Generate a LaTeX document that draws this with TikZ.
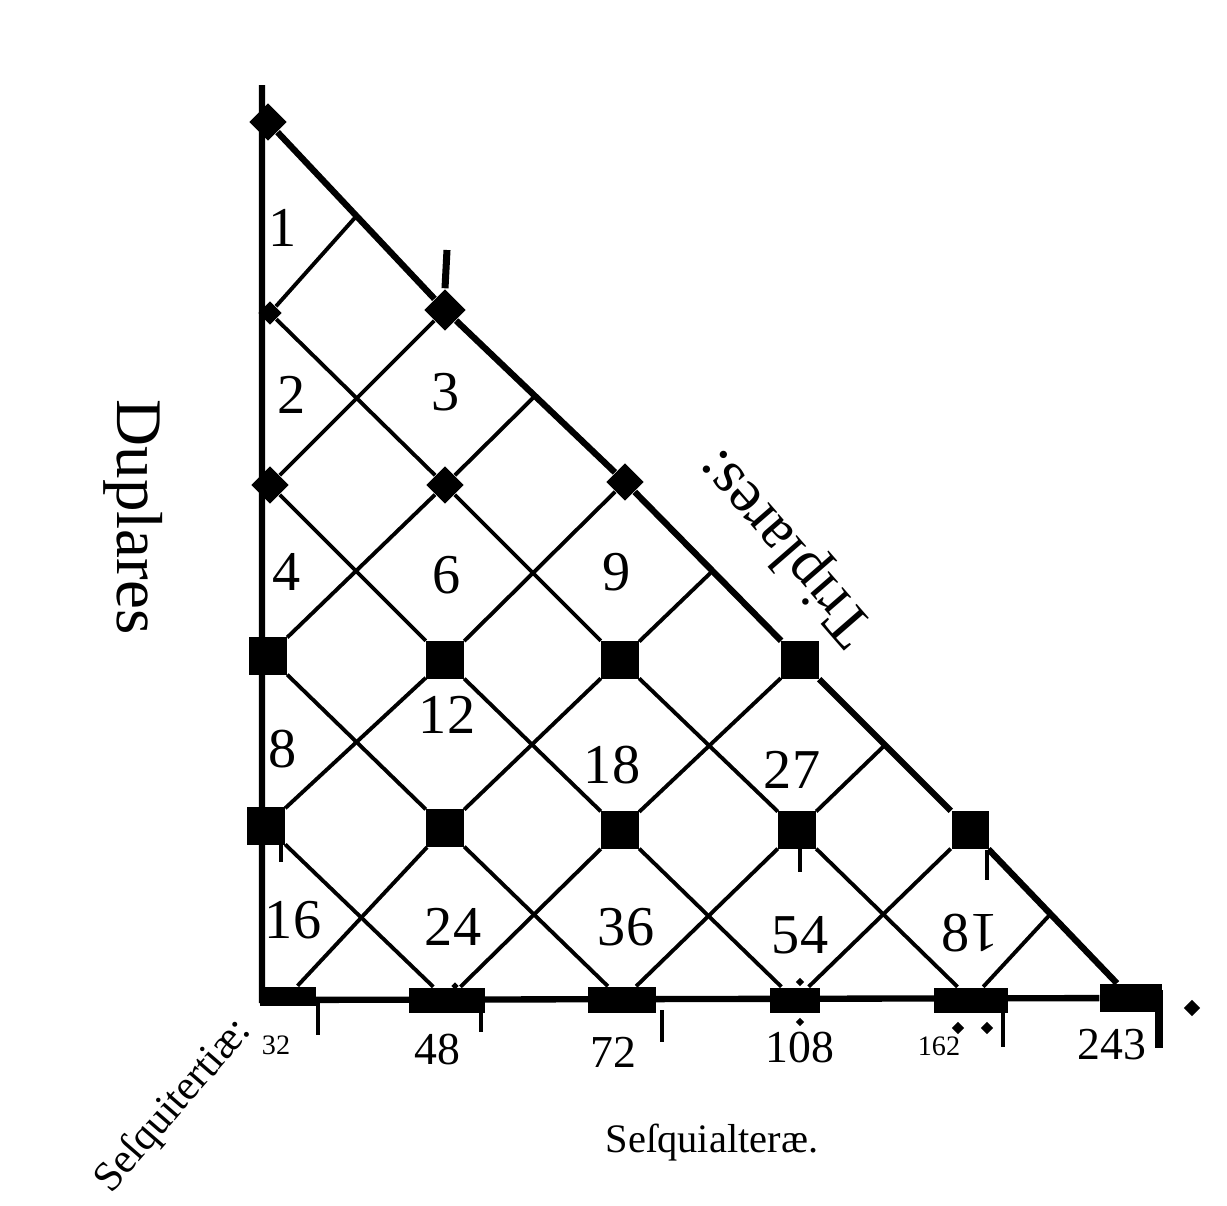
\documentclass[tikz,border=0pt]{standalone}
\usepackage{fontspec}
\setmainfont{Liberation Serif}
\usetikzlibrary{shapes.geometric,calc}
\tikzset{
  frame/.style={line width=1.8pt},
  grid/.style={line width=1.1pt},
  knot/.style={diamond, fill=black, inner sep=0pt, minimum width=0.38cm, minimum height=0.38cm},
  block/.style={rectangle, fill=black, inner sep=0pt, minimum size=0.37cm},
  bar/.style={rectangle, fill=black, inner sep=0pt, minimum width=0.72cm, minimum height=0.25cm},
  orn/.style={diamond, fill=black, inner sep=0pt, minimum size=0.13cm},
  tick/.style={line width=1.4pt},
  num/.style={font=\fontsize{16}{18}\selectfont},
  foot/.style={font=\fontsize{13}{15}\selectfont},
  small/.style={font=\fontsize{8}{9}\selectfont},
}
\begin{document}
\begin{tikzpicture}[x=0.01cm, y=-0.01cm]
\useasboundingbox (0,0) rectangle (1227,1206);
% ---- lattice points
\node[knot] (a0) at (268,122) {};
\node[knot, minimum width=0.24cm, minimum height=0.24cm] (a1) at (270,313) {};
\node[knot] (a2) at (270,485) {};
\node[block] (a3) at (268,656) {};
\node[block] (a4) at (266,826) {};
\node[bar, minimum width=0.56cm, minimum height=0.19cm] (a5) at (288,996) {};
\node[knot, minimum width=0.42cm, minimum height=0.42cm] (b1) at (445,310) {};
\node[knot] (b2) at (445,485) {};
\node[block] (b3) at (445,660) {};
\node[block] (b4) at (445,828) {};
\node[bar, minimum width=0.75cm] (b5) at (447,1000) {};
\node[knot] (c2) at (625,482) {};
\node[block] (c3) at (620,660) {};
\node[block] (c4) at (620,830) {};
\node[bar, minimum width=0.67cm, minimum height=0.26cm] (c5) at (622,1000) {};
\node[block] (d3) at (800,660) {};
\node[block] (d4) at (797,830) {};
\node[bar, minimum width=0.5cm] (d5) at (795,1000) {};
\node[block] (e4) at (970,830) {};
\node[bar, minimum width=0.73cm] (e5) at (971,1000) {};
\node[bar, minimum width=0.62cm, minimum height=0.28cm] (f5) at (1131,998) {};
\coordinate (top) at (262,85);
\coordinate (corner) at (262,1000);
\coordinate (m0) at ($(a0)!.5!(b1)$);
\coordinate (m1) at ($(b1)!.5!(c2)$);
\coordinate (m2) at ($(c2)!.5!(d3)$);
\coordinate (m3) at ($(d3)!.5!(e4)$);
\coordinate (m4) at ($(e4)!.5!(f5)$);
% ---- triangle
\draw[frame] (top) -- (corner) -- (f5);
\draw[frame] (a0) -- (b1) -- (c2) -- (d3) -- (e4) -- (f5);
% ---- diagonals going down
\draw[grid] (a1) -- (b2) -- (c3) -- (d4) -- (e5);
\draw[grid] (a2) -- (b3) -- (c4) -- (d5);
\draw[grid] (a3) -- (b4) -- (c5);
\draw[grid] (a4) -- (b5);
% ---- diagonals going up
\draw[grid] (a1) -- (m0);
\draw[grid] (a2) -- (b1);
\draw[grid] (a3) -- (b2) -- (m1);
\draw[grid] (a4) -- (b3) -- (c2);
\draw[grid] (a5) -- (b4) -- (c3) -- (m2);
\draw[grid] (b5) -- (c4) -- (d3);
\draw[grid] (c5) -- (d4) -- (m3);
\draw[grid] (d5) -- (e4);
\draw[grid] (e5) -- (m4);
% ---- ticks and marks
\draw[tick, line width=2pt] (447,250) -- (b1.north);
\draw[tick] (281,843) -- (281,862);
\draw[tick] (800,848) -- (800,872);
\draw[tick] (987,850) -- (987,880);
\draw[tick] (318,1003) -- (318,1035);
\draw[tick] (481,1010) -- (481,1032);
\draw[tick] (662,1010) -- (662,1042);
\draw[tick] (1003,1010) -- (1003,1047);
\draw[line width=2.3pt] (1159,990) -- (1159,1048);
\node[orn, minimum size=0.08cm] (o1) at (455,986) {};
\node[orn, minimum size=0.09cm] (o2) at (800,982) {};
\node[orn, minimum size=0.09cm] (o3) at (800,1022) {};
\node[orn] (o4) at (958,1028) {};
\node[orn] (o5) at (987,1028) {};
\node[orn, minimum size=0.17cm] (o6) at (1192,1008) {};
% ---- numbers
\node[num] (v1) at (283,228) {1};
\node[num] (v2) at (292,395) {2};
\node[num] (v3) at (446,392) {3};
\node[num] (v4) at (287,572) {4};
\node[num] (v6) at (447,575) {6};
\node[num] (v9) at (617,572) {9};
\node[num] (v8) at (283,749) {8};
\node[num] (v12) at (447,715) {12};
\node[num] (v18) at (612,765) {18};
\node[num] (v27) at (792,770) {27};
\node[num] (v16) at (293,920) {16};
\node[num] (v24) at (453,927) {24};
\node[num] (v36) at (626,927) {36};
\node[num] (v54) at (800,935) {54};
\node[num] (v81) at (970,933) {8\rotatebox[origin=c]{180}{1}};
\node[small] (w32) at (276,1045) {32};
\node[foot] (w48) at (437,1050) {48};
\node[foot] (w72) at (613,1052) {72};
\node[foot] (w108) at (800,1048) {108};
\node[small] (w162) at (939,1046) {162};
\node[foot] (w243) at (1112,1045) {243};
% ---- names of the ratios
\node[font=\fontsize{18.5}{20}\selectfont, rotate=-90] (dupl) at (133,517) {Duplares};
\node[font=\fontsize{17.5}{19}\selectfont, rotate=131] (tripl) at (787,546) {Triplares:};
\node[font=\fontsize{12}{14}\selectfont, rotate=49] (sesqt) at (174,1106) {Seſquitertiæ:};
\node[font=\fontsize{11.5}{13}\selectfont] (sesqa) at (712,1143) {Seſquialteræ.};
\end{tikzpicture}
\end{document}
